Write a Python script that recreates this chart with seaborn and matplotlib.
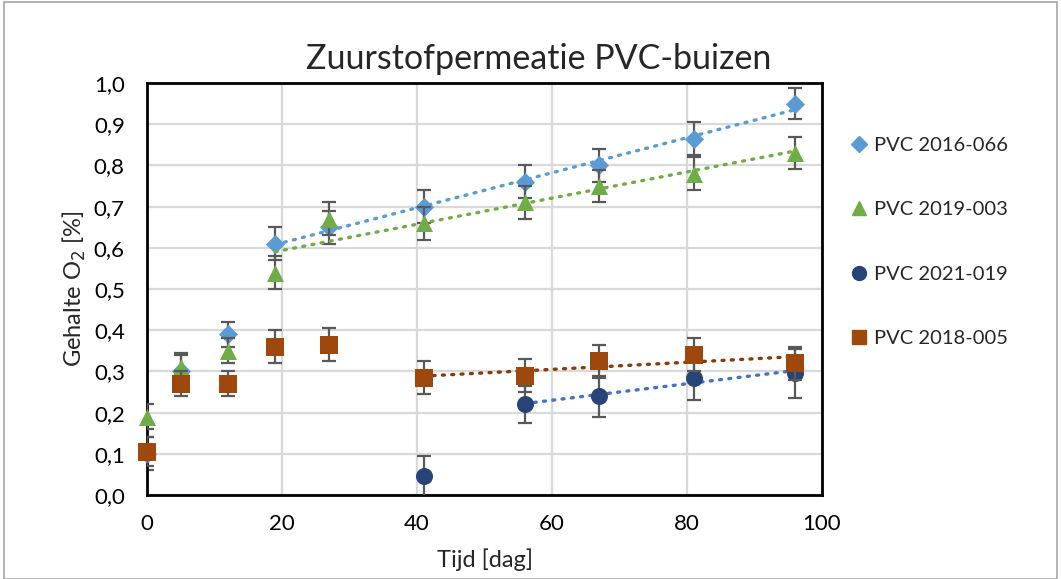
import matplotlib
matplotlib.use("Agg")
import matplotlib.pyplot as plt
import seaborn as sns
import numpy as np
import pandas as pd
from matplotlib.lines import Line2D
from matplotlib.patches import Rectangle

# ---- data ----
days = [0, 5, 12, 19, 27, 41, 56, 67, 81, 96]
pvc_2016_066 = [0.10, 0.30, 0.39, 0.61, 0.65, 0.70, 0.76, 0.80, 0.865, 0.95]
pvc_2016_066_err = [0.04, 0.04, 0.03, 0.04, 0.04, 0.04, 0.04, 0.04, 0.04, 0.037]
pvc_2019_003 = [0.19, 0.31, 0.35, 0.54, 0.67, 0.66, 0.71, 0.75, 0.78, 0.83]
pvc_2019_003_err = [0.03, 0.035, 0.03, 0.04, 0.04, 0.04, 0.04, 0.04, 0.04, 0.038]
days_2021 = [41, 56, 67, 81, 96]
pvc_2021_019 = [0.045, 0.22, 0.24, 0.285, 0.295]
pvc_2021_019_err = [0.05, 0.045, 0.05, 0.055, 0.06]
pvc_2018_005 = [0.105, 0.27, 0.27, 0.36, 0.365, 0.285, 0.29, 0.325, 0.34, 0.32]
pvc_2018_005_err = [0.035, 0.03, 0.03, 0.04, 0.04, 0.04, 0.04, 0.04, 0.04, 0.04]

labels = ["PVC 2016-066", "PVC 2019-003", "PVC 2021-019", "PVC 2018-005"]
xticks = [0, 20, 40, 60, 80, 100]
yticks = [0.0, 0.1, 0.2, 0.3, 0.4, 0.5, 0.6, 0.7, 0.8, 0.9, 1.0]

sns.set_theme(style="white")
plt.rcParams['font.family'] = ['Lato', 'DejaVu Sans']

fig = plt.figure(figsize=(10.61, 5.79), dpi=100)
ax = fig.add_axes([0.1386, 0.1451, 0.6361, 0.7115])

series = [
    (days, pvc_2016_066, pvc_2016_066_err, "#5B9BD5", "D", 95, 3, "#5B9BD5", 19),
    (days, pvc_2019_003, pvc_2019_003_err, "#70AD47", "^", 150, 4, "#70AD47", 19),
    (days_2021, pvc_2021_019, pvc_2021_019_err, "#264478", "o", 150, 5, "#4472C4", 56),
    (days, pvc_2018_005, pvc_2018_005_err, "#9E480E", "s", 150, 6, "#843C0C", 41),
]

handles = []
for (x, y, e, col, mk, sz, z, tcol, tstart), lab in zip(series, labels):
    eb = ax.errorbar(x, y, yerr=e, fmt="none", ecolor="#595959", elinewidth=1.6,
                     capsize=5, capthick=1.6, zorder=z - 0.5)
    df = pd.DataFrame({"x": x, "y": y})
    sns.scatterplot(data=df, x="x", y="y", marker=mk, s=sz, color=col,
                    edgecolor=col, linewidth=0, ax=ax, zorder=z, legend=False,
                    clip_on=False)
    sub = df[df["x"] >= tstart]
    sns.regplot(data=sub, x="x", y="y", scatter=False, ci=None, ax=ax,
                line_kws=dict(color=tcol, linestyle=(0, (0.6, 2.2)),
                              linewidth=2.4, dash_capstyle="round", zorder=z - 0.2))
    handles.append(Line2D([], [], linestyle="none", marker=mk, color=col,
                          markersize=10 if mk != "D" else 8, label=lab))

ax.set_xlim(0, 100)
ax.set_ylim(0, 1.0)
ax.set_xticks(xticks)
ax.set_yticks(yticks)
ax.set_xticklabels([str(t) for t in xticks], fontsize=16)
ax.set_yticklabels([f"{t:.1f}".replace(".", ",") for t in yticks], fontsize=16)
ax.tick_params(axis="both", length=0, colors="#000000")
ax.tick_params(axis="y", pad=16)
ax.tick_params(axis="x", pad=14)
ax.grid(True, color="#D9D9D9", linewidth=1.6)
ax.set_axisbelow(True)
for s in ax.spines.values():
    s.set_color("black")
    s.set_linewidth(2.0)
    s.set_visible(True)

ax.set_xlabel("Tijd [dag]", fontsize=17, labelpad=10)
ax.set_ylabel("Gehalte O$_2$ [%]", fontsize=17, labelpad=4)
ax.set_title("Zuurstofpermeatie PVC-buizen", fontsize=24.5, pad=10, x=0.581)

leg = fig.legend(handles=handles, loc="upper left", bbox_to_anchor=(0.78, 0.795),
                 frameon=False, fontsize=14.5, labelspacing=2.35,
                 handletextpad=0.1, handlelength=1.3)

fig.patches.append(Rectangle((0.004, 0.0), 0.992, 0.996, transform=fig.transFigure,
                             fill=False, edgecolor="#A6A6A6", linewidth=1.2))

fig.savefig("out.png", dpi=100)
